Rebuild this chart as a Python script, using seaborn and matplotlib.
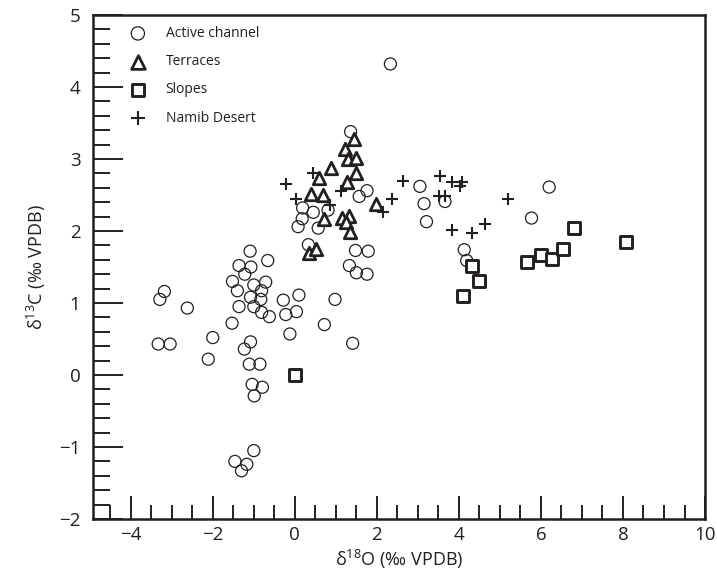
import pandas as pd
import matplotlib.pyplot as plt
from matplotlib.ticker import MultipleLocator
import seaborn as sns

# values (d18O, d13C)
active_x = [2.33, 1.36, 1.76, 1.57, 0.19, 0.45, 0.81, 0.18, 0.08, 0.57, 0.33, 1.48, 1.79, 1.33,
            1.50, 1.76, 3.05, 3.15, 3.21, 3.66, 4.13, 4.19, 6.20, 5.77, -0.28, 0.10, -0.22, 0.04,
            -0.12, 0.98, 0.72, 1.41, -1.09, -0.66, -1.36, -1.07, -1.22, -1.52, -1.00, -0.71, -1.40,
            -0.81, -1.08, -0.83, -1.36, -1.00, -0.81, -0.62, -1.53, -3.18, -3.29, -2.62, -3.33,
            -3.04, -2.00, -2.11, -1.08, -1.23, -1.11, -0.85, -1.04, -0.79, -0.99, -1.00, -1.46,
            -1.17, -1.30]
active_y = [4.32, 3.38, 2.56, 2.48, 2.32, 2.26, 2.29, 2.17, 2.06, 2.04, 1.81, 1.73, 1.72, 1.52,
            1.42, 1.40, 2.62, 2.38, 2.13, 2.41, 1.74, 1.59, 2.61, 2.18, 1.04, 1.11, 0.84, 0.88,
            0.57, 1.05, 0.70, 0.44, 1.72, 1.59, 1.52, 1.50, 1.40, 1.30, 1.25, 1.29, 1.17,
            1.17, 1.08, 1.05, 0.95, 0.95, 0.87, 0.81, 0.72, 1.16, 1.05, 0.93, 0.43,
            0.43, 0.52, 0.22, 0.46, 0.36, 0.15, 0.15, -0.13, -0.17, -0.29, -1.05, -1.20,
            -1.24, -1.33]

terrace_x = [1.44, 1.22, 1.29, 1.50, 0.88, 1.49, 0.59, 1.26, 0.39, 0.69, 1.97, 0.72, 1.14,
             1.33, 1.25, 1.34, 0.34, 0.51]
terrace_y = [3.28, 3.14, 3.00, 3.02, 2.87, 2.81, 2.74, 2.68, 2.51, 2.50, 2.38, 2.17, 2.18,
             2.21, 2.12, 1.98, 1.70, 1.75]

slope_x = [0.00, 4.31, 4.49, 4.10, 5.65, 6.01, 6.27, 6.53, 6.81, 8.08]
slope_y = [0.00, 1.52, 1.31, 1.10, 1.57, 1.67, 1.61, 1.75, 2.04, 1.85]

namib_x = [-0.22, 0.45, 0.04, 0.86, 1.12, 2.15, 2.37, 2.63, 3.55, 3.82, 4.08, 4.02, 3.52,
           3.66, 3.84, 4.31, 4.63, 5.20]
namib_y = [2.65, 2.80, 2.44, 2.36, 2.55, 2.27, 2.44, 2.69, 2.77, 2.68, 2.68, 2.62, 2.48,
           2.48, 2.02, 1.97, 2.10, 2.44]

ink = '#231f20'

sns.set_style('ticks')
plt.rcParams['font.family'] = ['Open Sans', 'DejaVu Sans']
plt.rcParams['mathtext.fontset'] = 'custom'
plt.rcParams['mathtext.rm'] = 'Open Sans'

fig, ax = plt.subplots(figsize=(7.17, 5.79), dpi=100)
fig.subplots_adjust(left=0.1297, right=0.9833, top=0.9741, bottom=0.1036)

sns.scatterplot(x=active_x, y=active_y, ax=ax, marker='o', s=75, facecolor='none',
                edgecolor=ink, linewidth=0.9, label='Active channel', zorder=3)
sns.scatterplot(x=terrace_x, y=terrace_y, ax=ax, marker='^', s=80, facecolor='white',
                edgecolor=ink, linewidth=2.0, label='Terraces', zorder=4)
sns.scatterplot(x=slope_x, y=slope_y, ax=ax, marker='s', s=66, facecolor='white',
                edgecolor=ink, linewidth=2.1, label='Slopes', zorder=4)
sns.scatterplot(x=namib_x, y=namib_y, ax=ax, marker='+', s=85, color=ink,
                linewidth=1.5, label='Namib Desert', zorder=5)

ax.set_xlim(-4.92, 10)
ax.set_ylim(-2, 5)
ax.xaxis.set_major_locator(MultipleLocator(2))
ax.xaxis.set_minor_locator(MultipleLocator(0.5))
ax.yaxis.set_major_locator(MultipleLocator(1))
ax.yaxis.set_minor_locator(MultipleLocator(0.2))

for s in ax.spines.values():
    s.set_linewidth(1.8)
    s.set_color(ink)

ax.tick_params(axis='both', which='both', direction='in', color=ink, width=1.4,
               labelsize=13.5, labelcolor=ink)
ax.tick_params(axis='x', which='major', length=16.5, pad=5)
ax.tick_params(axis='x', which='minor', length=10)
ax.tick_params(axis='y', which='major', length=21.5, pad=9)
ax.tick_params(axis='y', which='minor', length=12)

ax.set_xlabel('δ$^{18}$O (‰ VPDB)', fontsize=13, color=ink, labelpad=3)
ax.set_ylabel('δ$^{13}$C (‰ VPDB)', fontsize=13, color=ink, labelpad=8)

ax.legend(loc='upper left', bbox_to_anchor=(0.062, 0.978), frameon=False, fontsize=10,
          borderpad=0, handlelength=1.0, handletextpad=1.5, labelspacing=0.95,
          borderaxespad=0, labelcolor=ink, markerscale=1.1)

fig.savefig('out.png', dpi=100)
